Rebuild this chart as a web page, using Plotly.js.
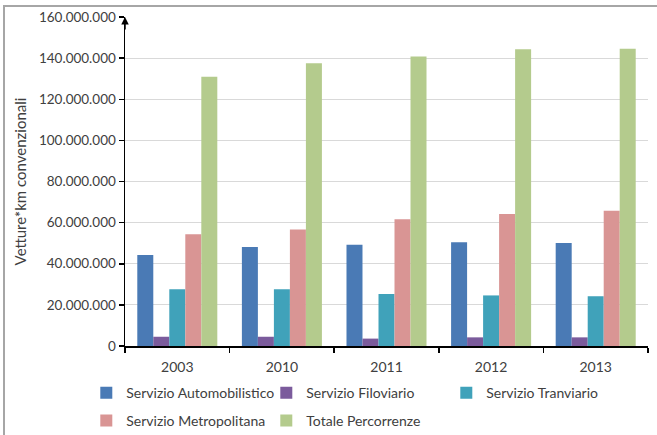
<!DOCTYPE html>
<html>
<head>
<meta charset="utf-8">
<script src="https://cdn.plot.ly/plotly-3.0.1.min.js"></script>
<style>
html,body{margin:0;padding:0;background:#fff;}
#frame{position:absolute;left:3px;top:5px;width:660px;height:440px;border-top:2px solid #a6a6a6;border-left:2px solid #a6a6a6;box-sizing:border-box;pointer-events:none;z-index:10;}
#chart{width:657px;height:435px;}
</style>
</head>
<body>
<div id="frame"></div>
<div id="chart"></div>
<script>
const years = ['2003', '2010', '2011', '2012', '2013'];
const seriesNames = ['Servizio Automobilistico', 'Servizio Filoviario', 'Servizio Tranviario', 'Servizio Metropolitana', 'Totale Percorrenze'];
const automobilistico = [44300000, 48200000, 49300000, 50400000, 50100000];
const filoviario = [4500000, 4500000, 3600000, 4200000, 4200000];
const tranviario = [27600000, 27600000, 25300000, 24600000, 24200000];
const metropolitana = [54300000, 56700000, 61600000, 64200000, 65800000];
const totale = [131000000, 137500000, 140800000, 144300000, 144500000];
const colors = ['#4a7ab5', '#7b5b9c', '#40a2ba', '#d99594', '#b4cb8d'];

const values = [automobilistico, filoviario, tranviario, metropolitana, totale];
const legends = ['legend', 'legend', 'legend', 'legend2', 'legend2'];
const data = values.map((v, i) => ({
  type: 'bar', x: years, y: v, name: seriesNames[i],
  marker: {color: colors[i]}, legend: legends[i], hoverinfo: 'y'
}));

const fam = 'Lato, "Open Sans", sans-serif';
const font = {family: fam, size: 14, color: '#404040'};
const legendBase = {
  orientation: 'h', xanchor: 'left', yanchor: 'middle',
  font: {family: fam, size: 14, color: '#404040'},
  entrywidth: 135, entrywidthmode: 'pixels', bgcolor: 'rgba(0,0,0,0)', itemwidth: 30
};
const layout = {
  width: 657, height: 435,
  margin: {l: 125, r: 9, t: 17, b: 89, autoexpand: false},
  separators: ',.',
  font: font,
  paper_bgcolor: '#fff', plot_bgcolor: '#fff',
  barmode: 'group', bargap: 0.235, bargroupgap: 0,
  showlegend: true,
  xaxis: {
    type: 'category', showline: true, linecolor: '#000', linewidth: 1.5,
    ticks: 'outside', tickson: 'boundaries', ticklen: 5, tickcolor: '#000', tickwidth: 1.5,
    ticklabelstandoff: 8,
    tickfont: {family: fam, size: 14, color: '#404040'}, showgrid: false, zeroline: false
  },
  yaxis: {
    range: [0, 160000000], dtick: 20000000, tickformat: ',d',
    showline: true, linecolor: '#000', linewidth: 1.5,
    ticks: 'outside', ticklen: 5, tickcolor: '#000', tickwidth: 1.5,
    gridcolor: '#d9d9d9', gridwidth: 1, zeroline: false,
    tickfont: {family: fam, size: 13.5, color: '#404040'},
    title: {text: 'Vetture*km convenzionali', font: {family: fam, size: 15, color: '#404040'}, standoff: 8}
  },
  legend: Object.assign({}, legendBase, {x: -0.074, y: -0.143}),
  legend2: Object.assign({}, legendBase, {x: -0.074, y: -0.228}),
  annotations: [{
    xref: 'paper', yref: 'y', x: 0, y: 160000000, text: '', showarrow: true,
    ax: 0, ay: 14, arrowhead: 2, arrowsize: 1, arrowwidth: 1.5, arrowcolor: '#000'
  }]
};
Plotly.newPlot('chart', data, layout, {displayModeBar: false, staticPlot: true});
</script>
</body>
</html>
